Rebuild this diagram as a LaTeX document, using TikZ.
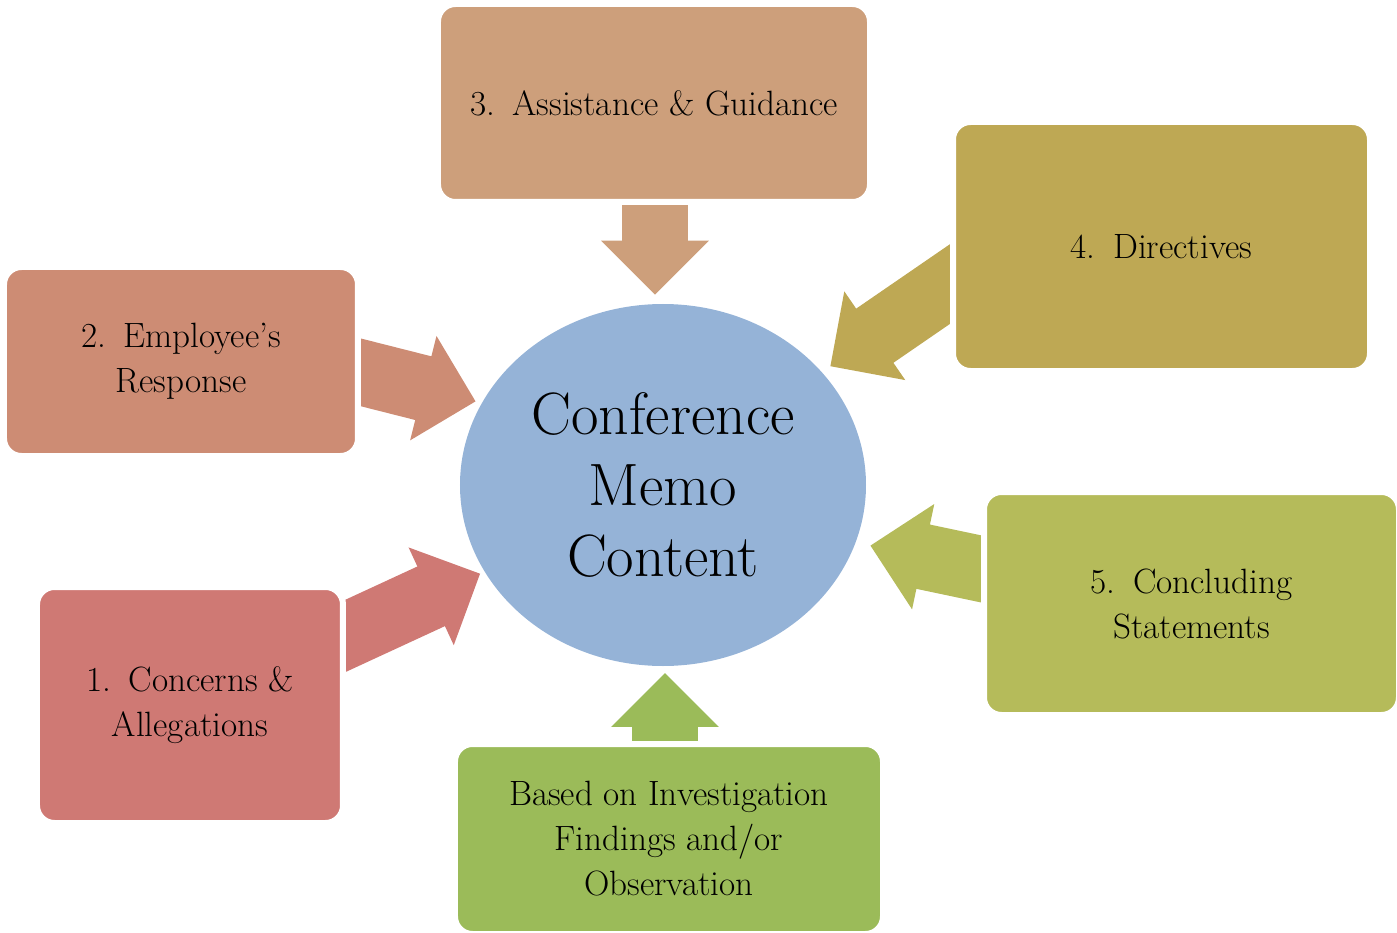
\documentclass[tikz,border=0pt]{standalone}
\usepackage{fontspec}
\usepackage{tikz}
\usetikzlibrary{positioning,shapes.geometric,shapes.arrows}
\usetikzlibrary{calc}
\pgfdeclarelayer{background}
\pgfsetlayers{background,main}
\definecolor{memoblue}{RGB}{149,179,215}
\definecolor{concernred}{RGB}{207,121,116}
\definecolor{responsesalmon}{RGB}{205,140,116}
\definecolor{assisttan}{RGB}{205,159,123}
\definecolor{directolive}{RGB}{190,168,84}
\definecolor{concludgreen}{RGB}{181,187,90}
\definecolor{basisgreen}{RGB}{155,187,89}
\tikzstyle{hub}=[ellipse, fill=memoblue, inner sep=0pt, minimum width=8.12cm, minimum height=7.24cm, align=center, font=\fontsize{34}{40.5}\selectfont]
\tikzstyle{item}=[rectangle, draw=white, line width=0.12cm, rounded corners=0.35cm, align=center, font=\fontsize{20}{25.6}\selectfont]
\tikzstyle{bigarrow}=[single arrow, draw=none, inner xsep=0pt, inner ysep=0.65cm, single arrow head extend=0.42cm, anchor=tip]

\begin{document}
\begin{tikzpicture}
        \useasboundingbox (-13.26,-8.94) rectangle (14.68,9.7);

        \node (memo) [hub] {Conference\\Memo\\Content};

        % Sections of the memo
        \node (assistance) [item, fill=assisttan, minimum width=8.64cm, minimum height=3.96cm, above of=memo, node distance=7.64cm, xshift=-0.18cm] {3.\enspace Assistance \& Guidance};
        \node (directives) [item, fill=directolive, minimum width=8.34cm, minimum height=4.98cm, right of=memo, node distance=9.97cm, yshift=4.77cm] {4.\enspace Directives};
        \node (response) [item, fill=responsesalmon, minimum width=7.08cm, minimum height=3.78cm, left of=memo, node distance=9.64cm, yshift=2.47cm] {2.\enspace Employee's\\Response};
        \node (concluding) [item, fill=concludgreen, minimum width=8.30cm, minimum height=4.46cm, right of=memo, node distance=10.57cm, yshift=-2.37cm] {5.\enspace Concluding\\Statements};
        \node (concerns) [item, fill=concernred, minimum width=6.12cm, minimum height=4.72cm, left of=memo, node distance=9.46cm, yshift=-4.4cm] {1.\enspace Concerns \&\\Allegations};

        % Basis
        \node (basis) [item, fill=basisgreen, minimum width=8.56cm, minimum height=3.80cm, below of=memo, node distance=7.08cm, xshift=0.12cm] {Based on Investigation\\Findings and/or\\Observation};

        % Arrows into the memo, tails under the boxes
        \begin{pgfonlayer}{background}
        \node (toassist) [bigarrow, fill=assisttan, minimum height=2.7cm, rotate=-90] at ($(memo.center)+(-0.16,3.8)$) {};
        \node (toresponse) [bigarrow, fill=responsesalmon, minimum height=4cm, rotate=-14.2] at ($(memo.center)+(-3.74,1.67)$) {};
        \node (todirectives) [bigarrow, fill=directolive, minimum height=4cm, rotate=214.5] at ($(memo.center)+(3.34,2.37)$) {};
        \node (toconcluding) [bigarrow, fill=concludgreen, minimum height=4cm, rotate=168.1] at ($(memo.center)+(4.14,-1.21)$) {};
        \node (toconcerns) [bigarrow, fill=concernred, minimum height=4cm, rotate=24.8] at ($(memo.center)+(-3.65,-1.77)$) {};
        \node (tobasis) [bigarrow, fill=basisgreen, minimum height=3cm, rotate=90] at ($(memo.center)+(0.04,-3.75)$) {};
        \end{pgfonlayer}

\end{tikzpicture}
\end{document}
